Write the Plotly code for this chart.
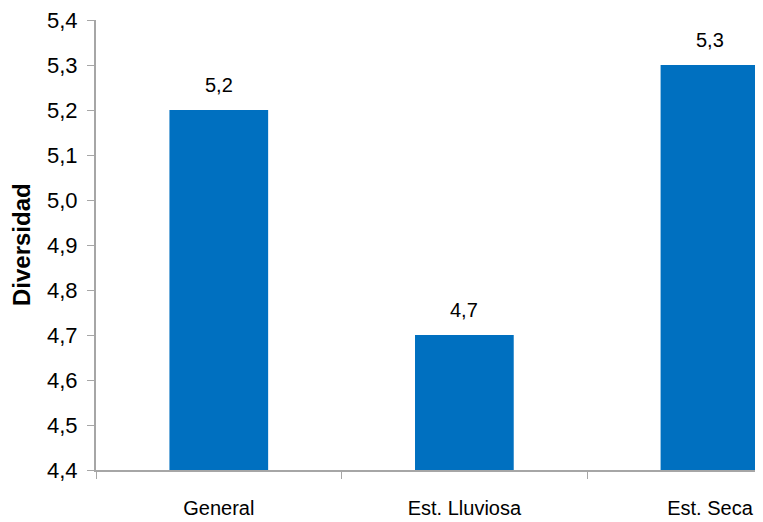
import plotly.graph_objects as go

categories = ["General", "Est. Lluviosa", "Est. Seca"]
values = [5.2, 4.7, 5.3]
y_ticks = [4.4, 4.5, 4.6, 4.7, 4.8, 4.9, 5.0, 5.1, 5.2, 5.3, 5.4]
y_title = "Diversidad"

BAR_COLOR = "#0070C0"
AXIS_COLOR = "#A6A6A6"
FONT = "Liberation Sans, Arial, sans-serif"

fig = go.Figure()
fig.add_trace(go.Bar(
    x=categories, y=values, base=0,
    marker=dict(color=BAR_COLOR, line=dict(width=0)),
    width=0.402, hoverinfo="skip",
))

for c, v in zip(categories, values):
    fig.add_annotation(
        x=c, y=v, xref="x", yref="y",
        text=f"{v:.1f}".replace(".", ","),
        showarrow=False, yshift=25, yanchor="middle",
        font=dict(family=FONT, size=20, color="#000000"),
    )

fig.add_annotation(
    xref="paper", yref="paper", x=-0.1124, y=0.5,
    text=f"<b>{y_title}</b>", textangle=-90, showarrow=False,
    xanchor="center", yanchor="middle",
    font=dict(family=FONT, size=24, color="#000000"),
)

fig.update_layout(
    width=755, height=514,
    margin=dict(l=88, r=0, t=12, b=52, autoexpand=False),
    paper_bgcolor="white", plot_bgcolor="white",
    separators=",.",
    showlegend=False,
    xaxis=dict(
        type="category", range=[-0.5, 2.216],
        showline=True, linecolor=AXIS_COLOR, linewidth=2,
        ticks="outside", tickson="boundaries", ticklen=7, tickcolor=AXIS_COLOR, tickwidth=1,
        showgrid=False, zeroline=False,
        tickfont=dict(family=FONT, size=20, color="#000000"),
        ticklabelstandoff=19, ticklabeloverflow="allow",
    ),
    yaxis=dict(
        range=[4.4, 5.4], tickvals=y_ticks, tickformat=".1f",
        showline=True, linecolor=AXIS_COLOR, linewidth=2,
        ticks="outside", ticklen=7, tickcolor=AXIS_COLOR, tickwidth=1,
        showgrid=False, zeroline=False,
        tickfont=dict(family=FONT, size=22, color="#000000"),
        ticklabelstandoff=5, ticklabeloverflow="allow",
    ),
)

fig.write_html("out.html")
